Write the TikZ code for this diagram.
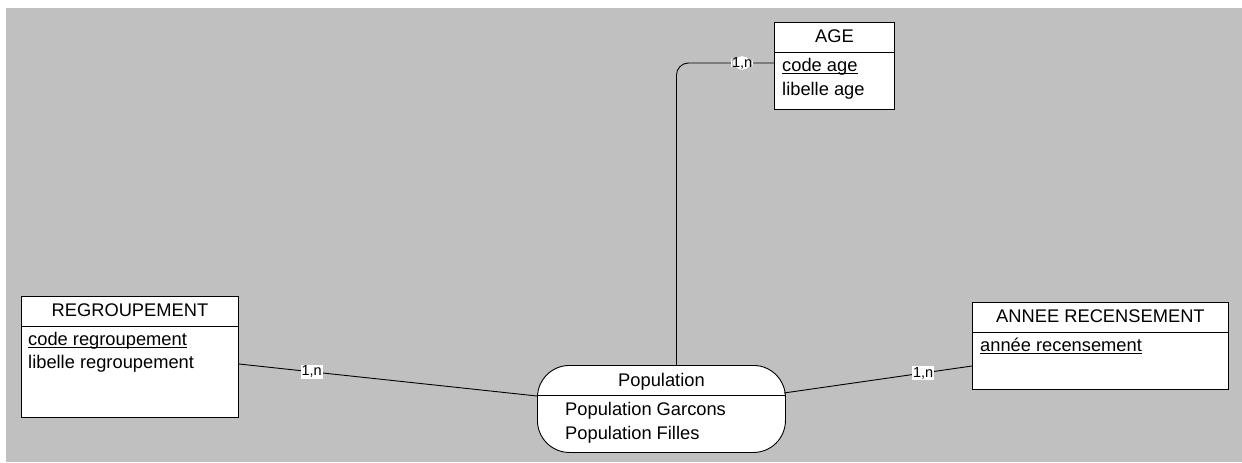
\documentclass[tikz,border=0pt]{standalone}
\usepackage{fontspec}
\setmainfont{Liberation Sans}
\usetikzlibrary{calc}
\definecolor{canvas}{RGB}{192,192,192}
% identifier attributes: underlined just below the baseline
\newcommand\keyattr[1]{\setbox0\hbox{#1}\rlap{\rule[-2.6pt]{\wd0}{0.9pt}}\box0}

\begin{document}
\begin{tikzpicture}[x=1pt, y=-1pt,
  box/.style={draw, fill=white, line width=0.9pt, inner sep=0pt, anchor=north west},
  assoc/.style={box, rounded corners=32pt},
  sep/.style={line width=0.9pt},
  title/.style={anchor=base, inner sep=0pt, font=\fontsize{18.3}{22}\selectfont},
  attr/.style={anchor=base west, inner sep=0pt, font=\fontsize{18.3}{22}\selectfont},
  link/.style={draw, line width=0.9pt},
  card/.style={fill=white, inner sep=0.9pt, font=\fontsize{14.5}{16}\selectfont}]

\useasboundingbox (0,0) rectangle (1242,463);
\fill[canvas] (6,8) rectangle (1242,462);

% entity AGE
\node[box, minimum width=120, minimum height=87] (age) at (774,22) {};
\draw[sep] ($(age.north west)+(0,30)$) -- ($(age.north east)+(0,30)$);
\node[title] (ageT) at ($(age.north)+(0,20)$) {AGE};
\node[attr] (ageA1) at ($(age.north west)+(8,49)$) {\keyattr{code age}};
\node[attr] (ageA2) at ($(age.north west)+(8,73)$) {libelle age};

% entity REGROUPEMENT
\node[box, minimum width=217, minimum height=121] (regr) at (21,296) {};
\draw[sep] ($(regr.north west)+(0,30)$) -- ($(regr.north east)+(0,30)$);
\node[title] (regrT) at ($(regr.north)+(0,20)$) {REGROUPEMENT};
\node[attr] (regrA1) at ($(regr.north west)+(7,49)$) {\keyattr{code regroupement}};
\node[attr] (regrA2) at ($(regr.north west)+(7,72)$) {libelle regroupement};

% entity ANNEE RECENSEMENT
\node[box, minimum width=256, minimum height=87] (annee) at (972,302) {};
\draw[sep] ($(annee.north west)+(0,30)$) -- ($(annee.north east)+(0,30)$);
\node[title] (anneeT) at ($(annee.north)+(0,20)$) {ANNEE RECENSEMENT};
\node[attr] (anneeA1) at ($(annee.north west)+(8,49)$) {\keyattr{année recensement}};

% association Population
\node[assoc, minimum width=248, minimum height=87] (pop) at (537,365) {};
\draw[sep] ($(pop.north west)+(1,30)$) -- ($(pop.north east)+(-1,30)$);
\node[title] (popT) at ($(pop.north)+(0,21)$) {Population};
\node[attr] (popA1) at ($(pop.north west)+(28,50)$) {Population Garcons};
\node[attr] (popA2) at ($(pop.north west)+(28,74)$) {Population Filles};

% links with cardinalities
\draw[link] ($(regr.north east)+(0,68)$) -- node[card, pos=0.244] (c1) {1,n} ($(pop.north west)+(0,31)$);
\draw[link] ($(pop.north east)+(-2,28)$) -- node[card, pos=0.74] (c2) {1,n} ($(annee.north west)+(0,64)$);
\draw[link, rounded corners=12pt] ($(age.north west)+(0,41)$) -| node[card, pos=0.163] (c3) {1,n} ($(pop.north)+(15,0)$);
\end{tikzpicture}
\end{document}
